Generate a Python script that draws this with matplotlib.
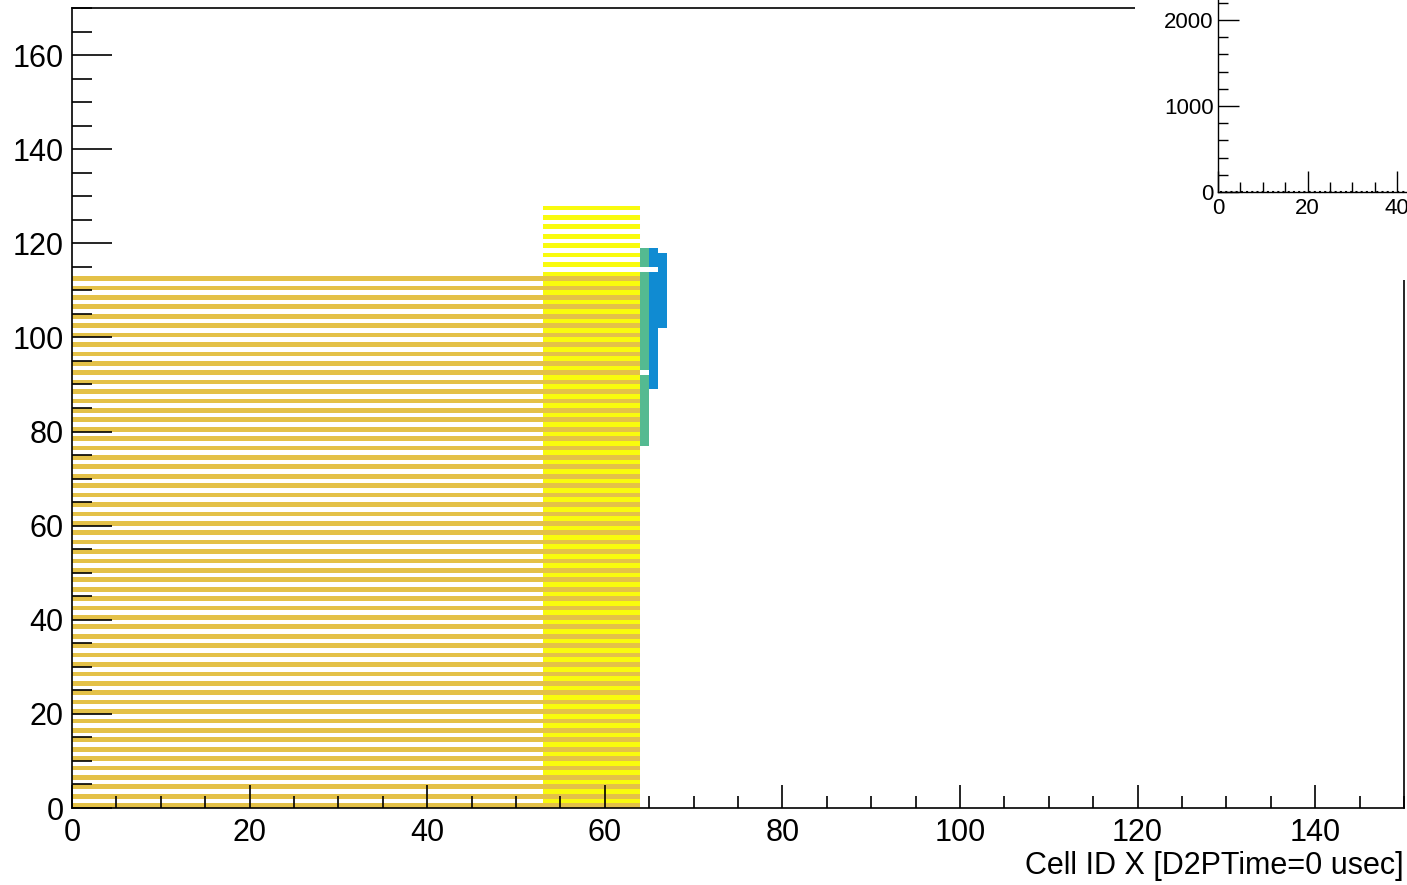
import numpy as np
from matplotlib import pyplot as plt
from matplotlib.colors import LinearSegmentedColormap
from matplotlib.patches import Rectangle
from matplotlib.ticker import MultipleLocator

plt.rcParams['font.family'] = ['Liberation Sans', 'DejaVu Sans']

#%% data (filled blocks of cells, every y_step-th row)
n_cells_x = 150
n_cells_y = 170
block_x_lo = [0, 53, 64, 65, 66]
block_x_hi = [64, 64, 65, 66, 67]
block_y_lo = [0, 1, 77, 89, 102]
block_y_hi = [113, 128, 119, 119, 118]
block_y_step = [2, 2, 1, 1, 1]
block_counts = [45, 56, 31, 16, 16]
empty_x = [64, 64, 65]
empty_y = [92, 114, 114]

inset_counts = [0] * 45

#%% ROOT kBird palette
bird_r = [0.2082, 0.0592, 0.0780, 0.0232, 0.1802, 0.5301, 0.8186, 0.9956, 0.9764]
bird_g = [0.1664, 0.3599, 0.5041, 0.6419, 0.7178, 0.7492, 0.7328, 0.7862, 0.9832]
bird_b = [0.5293, 0.8684, 0.8385, 0.7914, 0.6425, 0.4662, 0.3499, 0.1968, 0.0539]
bird = LinearSegmentedColormap.from_list("bird", list(zip(bird_r, bird_g, bird_b)))

counts = np.full((n_cells_y, n_cells_x), np.nan)
for x0, x1, y0, y1, st, c in zip(block_x_lo, block_x_hi, block_y_lo, block_y_hi,
                                 block_y_step, block_counts):
    counts[y0:y1:st, x0:x1] = c
for ex, ey in zip(empty_x, empty_y):
    counts[ey, ex] = np.nan

#%%
W, H = 1407, 885
def px(l, t, r, b):
    return [l / W, 1 - b / H, (r - l) / W, (b - t) / H]

fig = plt.figure(figsize=(W / 100, H / 100), dpi=100)
ax = fig.add_axes(px(72, 8, 1404, 808))
ax.pcolormesh(np.arange(n_cells_x + 1), np.arange(n_cells_y + 1),
              np.ma.masked_invalid(counts), cmap=bird, vmin=0, vmax=56)
ax.set_xlim(0, n_cells_x)
ax.set_ylim(0, n_cells_y)
ax.xaxis.set_major_locator(MultipleLocator(20))
ax.xaxis.set_minor_locator(MultipleLocator(5))
ax.yaxis.set_major_locator(MultipleLocator(20))
ax.yaxis.set_minor_locator(MultipleLocator(5))
ax.tick_params(which='both', direction='in', width=1.2, labelsize=22)
ax.tick_params(axis='x', which='major', length=16.5, pad=7)
ax.tick_params(axis='x', which='minor', length=8.6)
ax.tick_params(axis='y', which='major', length=28.8, pad=6)
ax.tick_params(axis='y', which='minor', length=14.4)
for s in ax.spines.values():
    s.set_linewidth(1.2)
ax.set_xlabel("Cell ID X [D2PTime=0 usec]", fontsize=22, ha='right', va='baseline')
ax.xaxis.set_label_coords(1.0, -(874 - 808) / 800)

# white pad of the inset covers the frame corner
fig.add_artist(Rectangle((1135 / W, 1 - 280 / H), 272 / W, 280 / H,
                         transform=fig.transFigure, facecolor='white',
                         edgecolor='none', zorder=1))

ins = fig.add_axes(px(1218, -23, 1441.75, 192), zorder=2)
ins.set_facecolor('white')
ins.plot(np.arange(len(inset_counts)) + 0.5, inset_counts, color='black',
         ls=(0, (1, 1.5)), lw=1.5, clip_on=False)
ins.set_xlim(0, 50)
ins.set_ylim(0, 2500)
ins.spines['top'].set_visible(False)
ins.spines['right'].set_visible(False)
for s in ins.spines.values():
    s.set_linewidth(1.0)
ins.xaxis.set_major_locator(MultipleLocator(20))
ins.xaxis.set_minor_locator(MultipleLocator(5))
ins.yaxis.set_major_locator(MultipleLocator(1000))
ins.yaxis.set_minor_locator(MultipleLocator(200))
ins.tick_params(which='both', direction='in', width=1.0, labelsize=16)
ins.tick_params(which='major', length=15, pad=4)
ins.tick_params(which='minor', length=7.5)
ins.tick_params(axis='y', pad=3)

fig.savefig("out.png", dpi=100)
